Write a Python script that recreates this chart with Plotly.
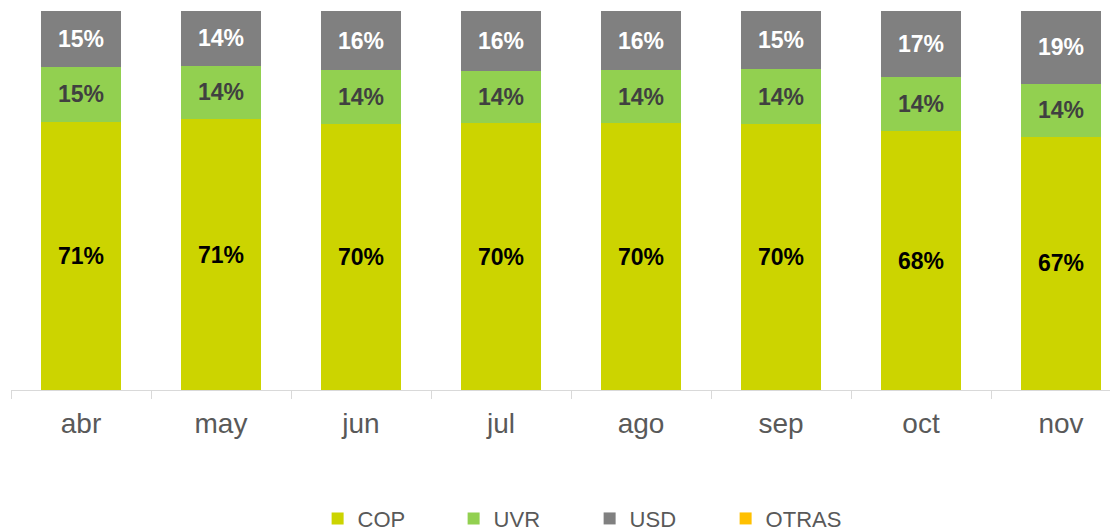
import plotly.graph_objects as go

categories = ["abr", "may", "jun", "jul", "ago", "sep", "oct", "nov"]
cop = [70.7, 71.4, 70.2, 70.4, 70.4, 70.2, 68.3, 66.8]
uvr = [14.6, 14.2, 14.2, 13.8, 14.0, 14.4, 14.2, 14.0]
usd = [14.7, 14.4, 15.6, 15.8, 15.6, 15.4, 17.4, 19.2]
otras = [0, 0, 0, 0, 0, 0, 0, 0]

FONT = "Liberation Sans, Arial, sans-serif"

series = [
    ("COP", cop, "#CCD400", "#000000"),
    ("UVR", uvr, "#92D050", "#404040"),
    ("USD", usd, "#808080", "#FFFFFF"),
    ("OTRAS", otras, "#FFC000", "#000000"),
]

fig = go.Figure()
for name, vals, color, tcolor in series:
    fig.add_trace(go.Bar(
        name=name, x=categories, y=vals,
        marker=dict(color=color, line=dict(width=0)),
        text=[f"{round(v)}%" if v > 0 else "" for v in vals],
        textposition="inside", insidetextanchor="middle",
        textangle=0, constraintext="none",
        textfont=dict(family=FONT, size=23, color=tcolor, weight="bold"),
        hoverinfo="skip",
    ))

fig.update_layout(
    barmode="stack",
    bargap=0.4286,
    width=1110, height=531,
    margin=dict(l=11, r=0, t=11, b=141, autoexpand=False),
    paper_bgcolor="white", plot_bgcolor="white",
    font=dict(family=FONT, color="#595959"),
    xaxis=dict(
        range=[-0.5, 7.35],
        showline=True, linecolor="#D9D9D9", linewidth=1,
        ticks="outside", tickson="boundaries", ticklen=8, tickcolor="#D9D9D9",
        tickfont=dict(family=FONT, size=28, color="#595959"),
        ticklabelstandoff=8,
        showgrid=False,
    ),
    yaxis=dict(range=[0, 100], visible=False, showgrid=False),
    legend=dict(
        orientation="h", x=0.279, xanchor="left", y=-0.284, yanchor="top",
        font=dict(family=FONT, size=22, color="#595959"),
        entrywidth=91, entrywidthmode="pixels",
        traceorder="normal",
        itemclick=False,
    ),
    showlegend=True,
)

fig.write_html(
    "out.html",
    config={"displayModeBar": False},
    post_script="document.body.style.margin='0';document.body.style.overflow='hidden';",
)
